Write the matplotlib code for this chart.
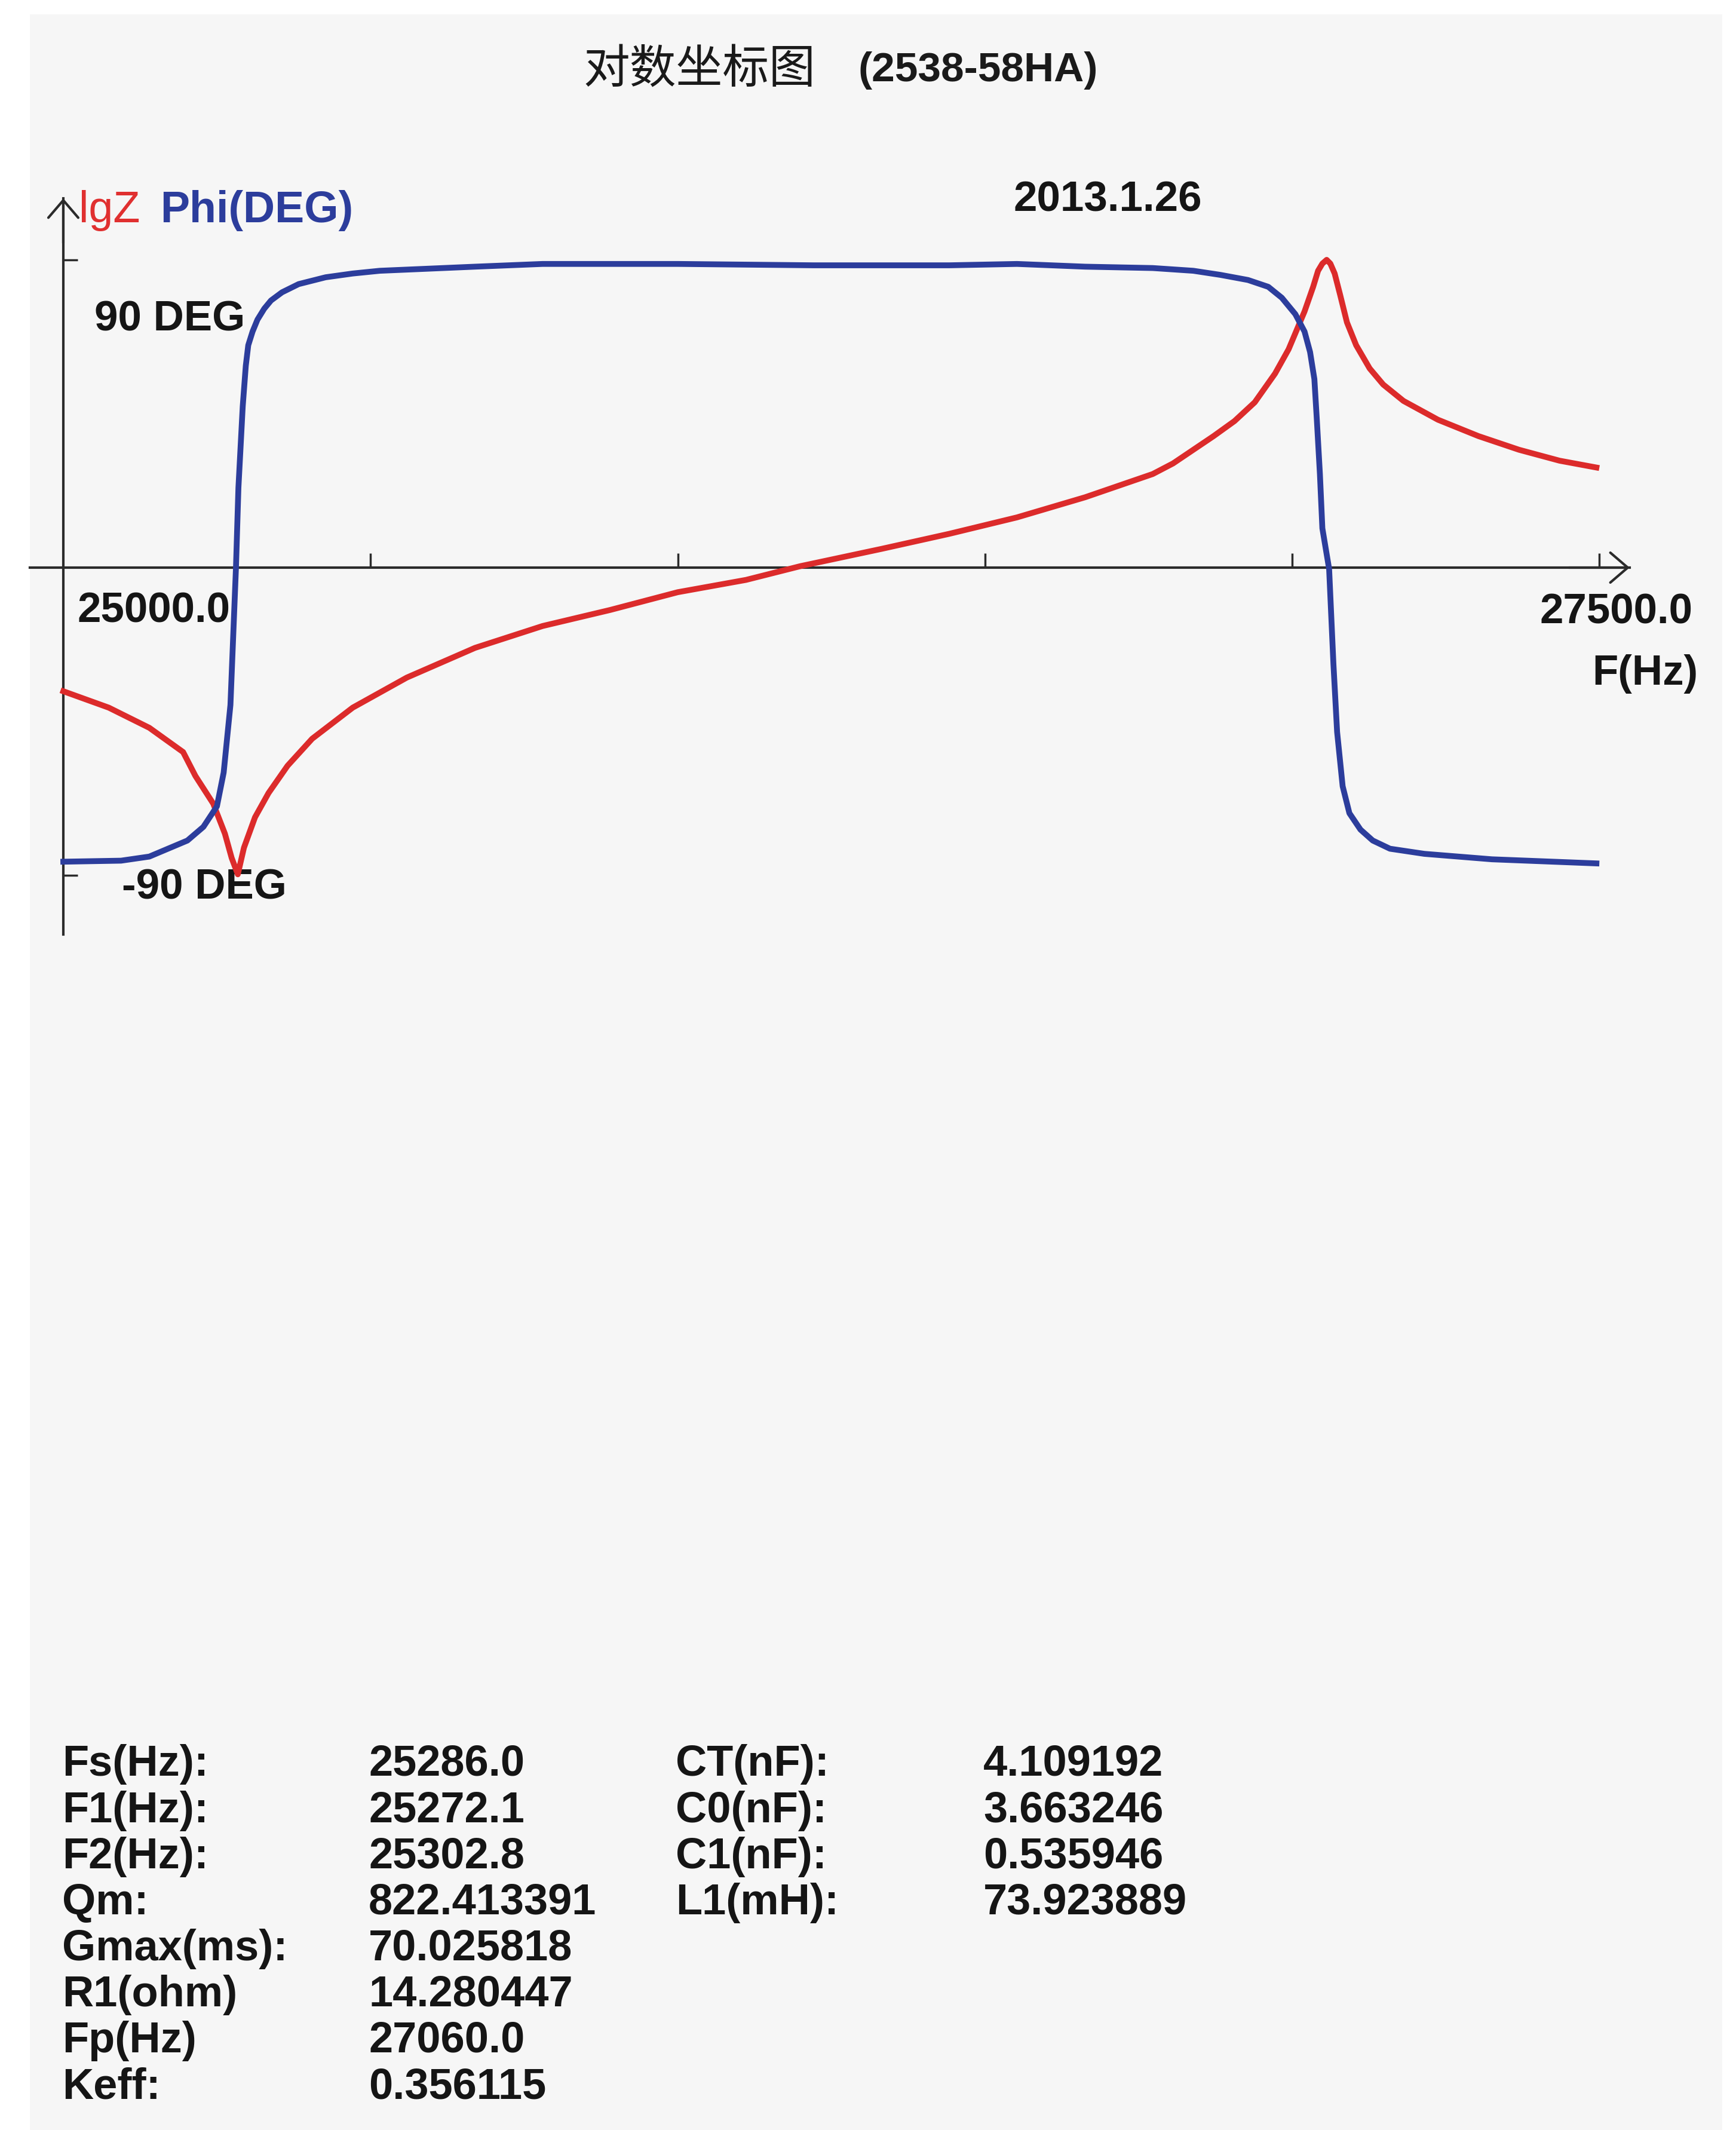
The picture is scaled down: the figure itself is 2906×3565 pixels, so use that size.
import numpy as np
import matplotlib
matplotlib.use("Agg")
import matplotlib.pyplot as plt
from matplotlib.patches import Rectangle

W, H = 2906, 3566

# 相位曲线 (Hz, deg)
freq_phase = [25000, 25094, 25140, 25202, 25228, 25250, 25261, 25272, 25281, 25285,
              25292, 25297, 25301, 25308, 25316, 25327, 25338, 25356, 25383, 25427,
              25471, 25515, 25670, 25780, 26000, 26221, 26442, 26552, 26663, 26773,
              26839, 26883, 26928, 26961, 26983, 27005, 27020, 27029, 27036, 27040,
              27045, 27049, 27060, 27067, 27073, 27082, 27093, 27111, 27131, 27159,
              27215, 27325, 27495]
phase_deg = [-86.1, -85.8, -84.6, -79.9, -75.9, -69.9, -60.0, -40.2, 0.0, 23.4,
             47.2, 59.1, 65.1, 69.1, 72.6, 75.8, 78.2, 80.6, 83.0, 85.0,
             86.1, 86.9, 88.1, 88.9, 88.9, 88.5, 88.5, 88.9, 88.1, 87.7,
             86.9, 85.7, 84.2, 82.2, 79.0, 74.2, 69.1, 63.1, 55.2, 43.3,
             27.4, 11.5, -0.4, -28.2, -48.1, -64.0, -71.9, -76.7, -79.9, -82.3,
             -83.8, -85.4, -86.6]

# 阻抗曲线 lgZ (按图上比例)
freq_lgz = [25000, 25074, 25140, 25195, 25215, 25244, 25263, 25274, 25284, 25294,
            25312, 25334, 25365, 25405, 25471, 25559, 25670, 25780, 25890, 26000,
            26111, 26199, 26332, 26442, 26552, 26663, 26773, 26806, 26839, 26872,
            26906, 26939, 26972, 26994, 27020, 27034, 27042, 27049, 27056, 27062,
            27069, 27078, 27089, 27104, 27126, 27148, 27181, 27237, 27303, 27369,
            27435, 27495]
lgz_val = [-36.2, -41.0, -46.9, -54.0, -61.0, -69.1, -77.9, -85.0, -89.8, -82.0,
           -73.1, -66.0, -58.0, -50.1, -41.0, -32.2, -23.5, -17.1, -12.4, -7.2,
           -3.6, 0.4, 5.5, 9.9, 14.7, 20.6, 27.4, 30.5, 34.5, 38.5,
           42.9, 48.4, 56.8, 63.9, 75.0, 82.2, 86.9, 89.0, 90.1, 89.0,
           86.1, 79.8, 71.8, 65.1, 58.3, 53.6, 48.8, 43.3, 38.5, 34.5,
           31.3, 29.3]

x_ticks = [25500, 26000, 26500, 27000, 27500]
y_ticks = [-90, 90]

labels_left = ["Fs(Hz):", "F1(Hz):", "F2(Hz):", "Qm:", "Gmax(ms):", "R1(ohm)", "Fp(Hz)", "Keff:"]
values_left = ["25286.0", "25272.1", "25302.8", "822.413391", "70.025818", "14.280447", "27060.0", "0.356115"]
labels_right = ["CT(nF):", "C0(nF):", "C1(nF):", "L1(mH):"]
values_right = ["4.109192", "3.663246", "0.535946", "73.923889"]

RED = "#dc2b2b"
BLUE = "#2c3d9c"
AX = "#2b2b2b"
LIB = ["Liberation Sans", "DejaVu Sans"]

fig = plt.figure(figsize=(W / 100, H / 100), dpi=100, facecolor="white")
fig.patches.append(Rectangle((50 / W, 0), (2883 - 50) / W, (H - 25) / H,
                             transform=fig.transFigure, facecolor="#f6f6f6",
                             edgecolor="none", zorder=-10))

def fx(px):
    return px / W

def fy(py):
    return 1 - py / H

# 坐标区
ax = fig.add_axes([fx(50), fy(1565), (2728 - 50) / W, (1565 - 333) / H])
ax.set_zorder(5)
ax.patch.set_visible(False)
ax.set_xlim(24945.6, 27549.1)
ax.set_ylim(-107.4, 108.1)
for s in ["top", "right"]:
    ax.spines[s].set_visible(False)
ax.spines["left"].set_position(("data", 25000))
ax.spines["bottom"].set_position(("data", 0))
for s in ["left", "bottom"]:
    ax.spines[s].set_linewidth(3.0)
    ax.spines[s].set_color(AX)
ax.set_xticks(x_ticks)
ax.set_yticks(y_ticks)
ax.tick_params(direction="in", length=17, width=2.5, color=AX,
               labelbottom=False, labelleft=False)

arrow = dict(arrowstyle="->,head_length=0.42,head_width=0.36", color=AX, lw=3.0,
             mutation_scale=50, shrinkA=0, shrinkB=0)
ax.annotate("", xy=(25000, 108.1), xytext=(25000, 95), arrowprops=arrow,
            annotation_clip=False)
ax.annotate("", xy=(27549.1, 0), xytext=(27450, 0), arrowprops=arrow,
            annotation_clip=False)

ax.plot(freq_lgz, lgz_val, color=RED, lw=7, solid_joinstyle="round", zorder=3)
ax.plot(freq_phase, phase_deg, color=BLUE, lw=7, solid_joinstyle="round", zorder=4)

# 文字
bold = dict(family=LIB, fontweight="bold", fontsize=51, color="#151515")
fig.text(fx(132), fy(372), "lgZ", color="#e03030", fontsize=53, family=LIB, va="baseline")
fig.text(fx(268), fy(372), "Phi(DEG)", color=BLUE, fontsize=53, fontweight="bold",
         family=LIB, va="baseline")
fig.text(fx(1696), fy(353), "2013.1.26", va="baseline", **bold)
fig.text(fx(158), fy(553), "90 DEG", va="baseline", **bold)
fig.text(fx(204), fy(1505), "-90 DEG", va="baseline", **bold)
fig.text(fx(129), fy(1041), "25000.0", va="baseline", **bold)
fig.text(fx(2577), fy(1043), "27500.0", va="baseline", **bold)
fig.text(fx(2842), fy(1146), "F(Hz)", va="baseline", ha="right", **bold)

fig.text(fx(976), fy(118), "对数坐标图", fontsize=56, color="#1a1a1a", va="center",
         family=["Noto Sans CJK SC", "DejaVu Sans"])
fig.text(fx(1436), fy(118), "(2538-58HA)", fontsize=50, color="#1a1a1a", va="center",
         fontweight="bold", family=LIB)

table_font = dict(family=LIB, fontweight="bold", fontsize=52, color="#151515", va="baseline")
row_base = [2972, 3050, 3127, 3204, 3281, 3358, 3435, 3513]
for i, (lab, val) in enumerate(zip(labels_left, values_left)):
    fig.text(fx(104), fy(row_base[i]), lab, **table_font)
    fig.text(fx(617), fy(row_base[i]), val, **table_font)
for i, (lab, val) in enumerate(zip(labels_right, values_right)):
    fig.text(fx(1131), fy(row_base[i]), lab, **table_font)
    fig.text(fx(1646), fy(row_base[i]), val, **table_font)

fig.savefig("out.png", dpi=100, facecolor="white")
